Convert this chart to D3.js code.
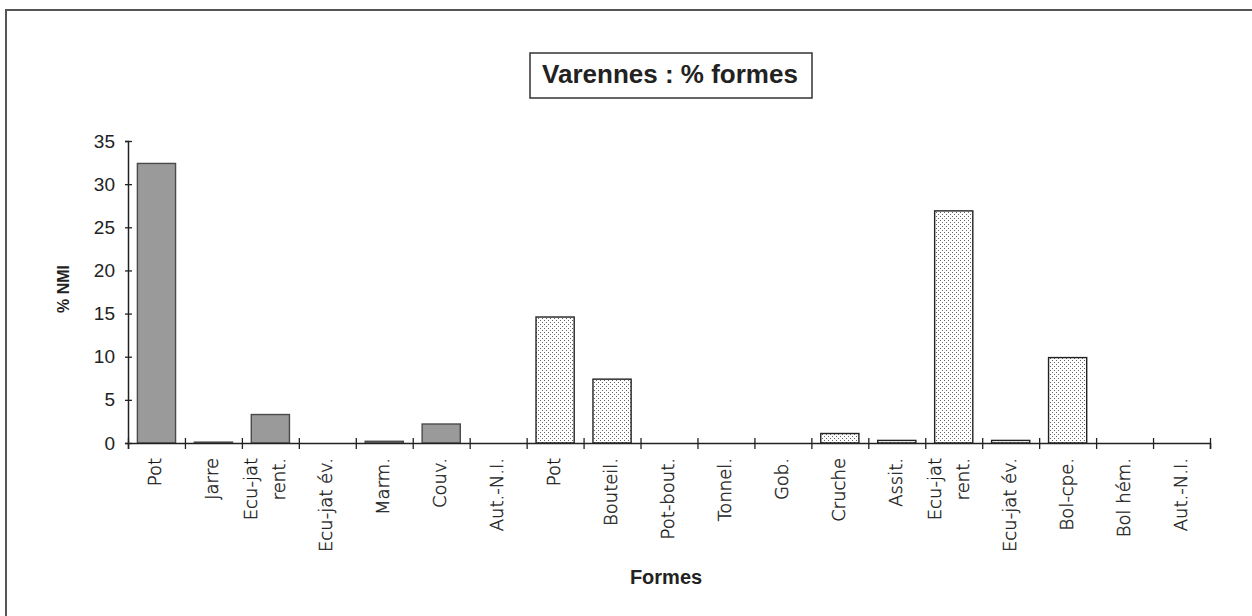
<!DOCTYPE html>
<html>
<head>
<meta charset="utf-8">
<script src="https://cdn.jsdelivr.net/npm/d3@7"></script>
<style>
  body { margin: 0; background: #fff; }
  svg { display: block; }
</style>
</head>
<body>
<svg width="1252" height="616"></svg>
<script>
// catégories (deux groupes : gris puis pointillé)
var categories = ["Pot", "Jarre", "Ecu-jat|rent.", "Ecu-jat év.", "Marm.", "Couv.", "Aut.-N.I.",
                  "Pot", "Bouteil.", "Pot-bout.", "Tonnel.", "Gob.", "Cruche", "Assit.",
                  "Ecu-jat|rent.", "Ecu-jat év.", "Bol-cpe.", "Bol hém.", "Aut.-N.I."];
var valuesGris = [32.4, 0.1, 3.3, 0, 0.2, 2.2, 0];
var valuesPoints = [14.6, 7.4, 0, 0, 0, 1.1, 0.3, 26.9, 0.3, 9.9, 0, 0];
var yTicks = [0, 5, 10, 15, 20, 25, 30, 35];

var data = valuesGris.map(function(v, i) { return { i: i, v: v, g: 0 }; })
  .concat(valuesPoints.map(function(v, i) { return { i: i + valuesGris.length, v: v, g: 1 }; }));

var svg = d3.select("svg");

// motif pointillé
var defs = svg.append("defs");
var pat = defs.append("pattern")
    .attr("id", "dots")
    .attr("width", 4).attr("height", 4)
    .attr("patternUnits", "userSpaceOnUse");
pat.append("rect").attr("width", 4).attr("height", 4).attr("fill", "#fff");
pat.append("rect").attr("x", 0).attr("y", 0).attr("width", 1).attr("height", 1).attr("fill", "#666");
pat.append("rect").attr("x", 2).attr("y", 2).attr("width", 1).attr("height", 1).attr("fill", "#666");

// cadre
svg.append("rect")
    .attr("x", 6).attr("y", 10)
    .attr("width", 1300).attr("height", 700)
    .attr("fill", "none")
    .attr("stroke", "#555")
    .attr("stroke-width", 2);

// échelles
var x0 = 128, x1 = 1210, y0 = 443, y1 = 141;
var x = d3.scaleBand()
    .domain(d3.range(categories.length))
    .range([x0, x1]);
var xLin = d3.scaleLinear()
    .domain([0, categories.length])
    .range([x0, x1]);
var y = d3.scaleLinear()
    .domain([0, 35])
    .range([y0, y1]);

var inset = x.bandwidth() * 0.165;

// barres
svg.selectAll("rect.bar")
    .data(data.filter(function(d) { return d.v > 0; }))
    .enter()
    .append("rect")
    .attr("class", "bar")
    .attr("x", function(d) { return x(d.i) + inset; })
    .attr("width", x.bandwidth() - 2 * inset)
    .attr("y", function(d) { return y(d.v); })
    .attr("height", function(d) { return y0 - y(d.v); })
    .attr("fill", function(d) { return d.g === 0 ? "#9a9a9a" : "url(#dots)"; })
    .attr("stroke", function(d) { return d.g === 0 ? "#4a4a4a" : "#222"; })
    .attr("stroke-width", 1.4);

// axe Y
var yAxis = svg.append("g")
    .attr("transform", "translate(" + x0 + ",0)")
    .call(d3.axisLeft(y).tickValues(yTicks).tickSize(3).tickPadding(10));
yAxis.select(".domain").attr("stroke", "#222").attr("stroke-width", 1.5);
yAxis.selectAll(".tick line").attr("x1", -3).attr("x2", 4).attr("stroke", "#222").attr("stroke-width", 1.3);
yAxis.selectAll(".tick text")
    .attr("x", -13)
    .attr("font-family", "Liberation Sans, Arial, sans-serif")
    .attr("font-size", 19)
    .attr("fill", "#222");

// axe X
var xAxis = svg.append("g")
    .attr("transform", "translate(0," + y0 + ")")
    .call(d3.axisBottom(xLin).tickValues(d3.range(categories.length + 1)).tickSize(6).tickFormat(""));
xAxis.select(".domain").attr("stroke", "#222").attr("stroke-width", 1.5);
xAxis.selectAll(".tick line").attr("y1", -5).attr("y2", 6).attr("stroke", "#222").attr("stroke-width", 1.3);

// libellés X (verticaux)
var labels = svg.selectAll("g.xlab")
    .data(categories)
    .enter()
    .append("g")
    .attr("class", "xlab")
    .attr("transform", function(d, i) {
        return "translate(" + (x(i) + x.bandwidth() / 2) + ",458) rotate(-90)";
    });
labels.each(function(d) {
    var lines = d.split("|");
    var g = d3.select(this);
    var offs = lines.length === 1 ? [5] : [-13, 15];
    lines.forEach(function(t, k) {
        g.append("text")
            .attr("y", offs[k])
            .attr("text-anchor", "end")
            .attr("font-family", "DejaVu Sans, sans-serif")
            .attr("font-weight", 200)
            .attr("font-size", 18)
            .attr("fill", "#111")
            .attr("stroke", "#222")
            .attr("stroke-width", 0.4)
            .text(t);
    });
});

// titre
svg.append("rect")
    .attr("x", 530).attr("y", 53)
    .attr("width", 282).attr("height", 45)
    .attr("fill", "#fff")
    .attr("stroke", "#333")
    .attr("stroke-width", 1.5);
svg.append("text")
    .attr("x", 670).attr("y", 83)
    .attr("text-anchor", "middle")
    .attr("font-family", "Liberation Sans, Arial, sans-serif")
    .attr("font-weight", "bold")
    .attr("font-size", 26)
    .attr("fill", "#222")
    .text("Varennes : % formes");

// titres des axes
svg.append("text")
    .attr("transform", "translate(69,289) rotate(-90)")
    .attr("text-anchor", "middle")
    .attr("font-family", "Liberation Sans, Arial, sans-serif")
    .attr("font-weight", "bold")
    .attr("font-size", 16)
    .attr("fill", "#222")
    .text("% NMI");
svg.append("text")
    .attr("x", 666).attr("y", 584)
    .attr("text-anchor", "middle")
    .attr("font-family", "Liberation Sans, Arial, sans-serif")
    .attr("font-weight", "bold")
    .attr("font-size", 20)
    .attr("fill", "#222")
    .text("Formes");
</script>
</body>
</html>
